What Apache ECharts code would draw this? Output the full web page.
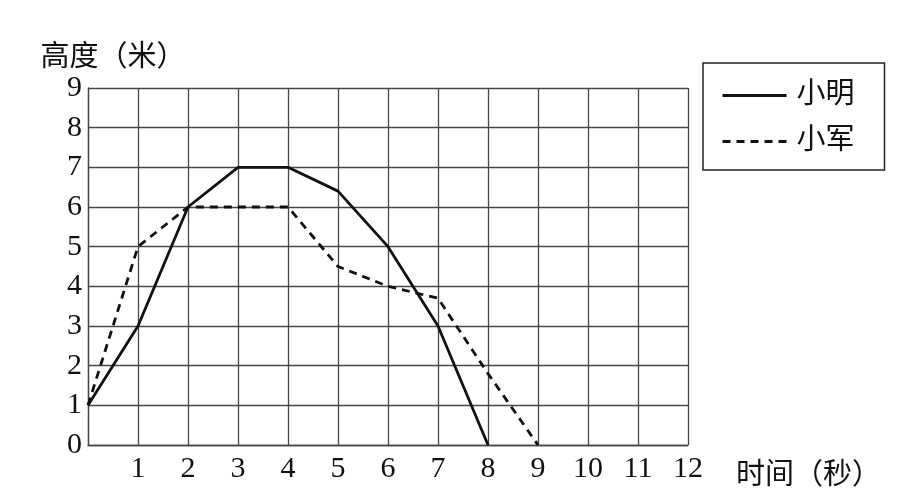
<!DOCTYPE html>
<html>
<head>
<meta charset="utf-8">
<script src="https://cdn.jsdelivr.net/npm/echarts@6/dist/echarts.min.js"></script>
<style>
  html, body { margin: 0; padding: 0; background: #fff; }
  #main { width: 916px; height: 500px; }
</style>
</head>
<body>
<div id="main"></div>
<script>
// 时间（秒）
const xiaomingTime = [0, 1, 2, 3, 4, 5, 6, 7, 8]
const xiaomingHeight = [1, 3, 6, 7, 7, 6.4, 5, 3, 0]
const xiaojunTime = [0, 1, 2, 3, 4, 5, 6, 7, 8, 9]
const xiaojunHeight = [1, 5, 6, 6, 6, 4.5, 4, 3.7, 1.8, 0]

const seriesNames = ["小明", "小军"]
const xTicks = ["", "1", "2", "3", "4", "5", "6", "7", "8", "9", "10", "11", "12"]
const yTicks = ["0", "1", "2", "3", "4", "5", "6", "7", "8", "9"]

const font = "'Liberation Serif', 'Noto Sans CJK SC', serif"
const ink = "#111"
const gridLine = { show: true, lineStyle: { color: "#474747", width: 1.3 } }

const pairs = (xs, ys) => xs.map((x, i) => [x, ys[i]])

const myChart = echarts.init(document.getElementById("main"))
const option = {
  backgroundColor: "#fff",
  animation: false,
  textStyle: { fontFamily: font, color: ink },
  grid: { left: 88, right: 228, top: 88, bottom: 55, containLabel: false },
  legend: {
    orient: "vertical",
    left: 703,
    top: 63,
    borderColor: "#222",
    borderWidth: 1.5,
    padding: [18, 30, 14, 18],
    itemWidth: 64,
    itemHeight: 14,
    itemGap: 17,
    itemStyle: { opacity: 0 },
    lineStyle: { width: 3 },
    textStyle: { fontFamily: font, fontSize: 29, color: ink, padding: [0, 0, 0, 5] },
    data: seriesNames,
  },
  xAxis: {
    type: "value",
    min: 0,
    max: 12,
    interval: 1,
    name: "时间（秒）",
    nameLocation: "end",
    nameGap: 48,
    nameTextStyle: { fontFamily: font, fontSize: 29, color: ink, verticalAlign: "top", padding: [17, 0, 0, 0] },
    axisLine: { show: true, lineStyle: { color: "#474747", width: 1.3 } },
    axisTick: { show: false },
    axisLabel: {
      fontFamily: font,
      fontSize: 30,
      color: ink,
      margin: 9,
      formatter: (v) => xTicks[v],
    },
    splitLine: gridLine,
  },
  yAxis: {
    type: "value",
    min: 0,
    max: 9,
    interval: 1,
    name: "高度（米）",
    nameLocation: "end",
    nameGap: 9,
    nameTextStyle: { fontFamily: font, fontSize: 29, color: ink, align: "center", padding: [0, 0, 0, 50] },
    axisLine: { show: true, lineStyle: { color: "#474747", width: 1.3 } },
    axisTick: { show: false },
    axisLabel: {
      fontFamily: font,
      fontSize: 30,
      color: ink,
      margin: 6,
      formatter: (v) => yTicks[v],
    },
    splitLine: gridLine,
  },
  series: [
    {
      name: seriesNames[0],
      type: "line",
      symbol: "none",
      data: pairs(xiaomingTime, xiaomingHeight),
      lineStyle: { color: "#111", width: 2.8, type: "solid" },
      itemStyle: { color: "#111" },
      z: 3,
    },
    {
      name: seriesNames[1],
      type: "line",
      symbol: "none",
      data: pairs(xiaojunTime, xiaojunHeight),
      lineStyle: { color: "#111", width: 2.8, type: [8, 6] },
      itemStyle: { color: "#111" },
      z: 2,
    },
  ],
}

option && myChart.setOption(option)
</script>
</body>
</html>
